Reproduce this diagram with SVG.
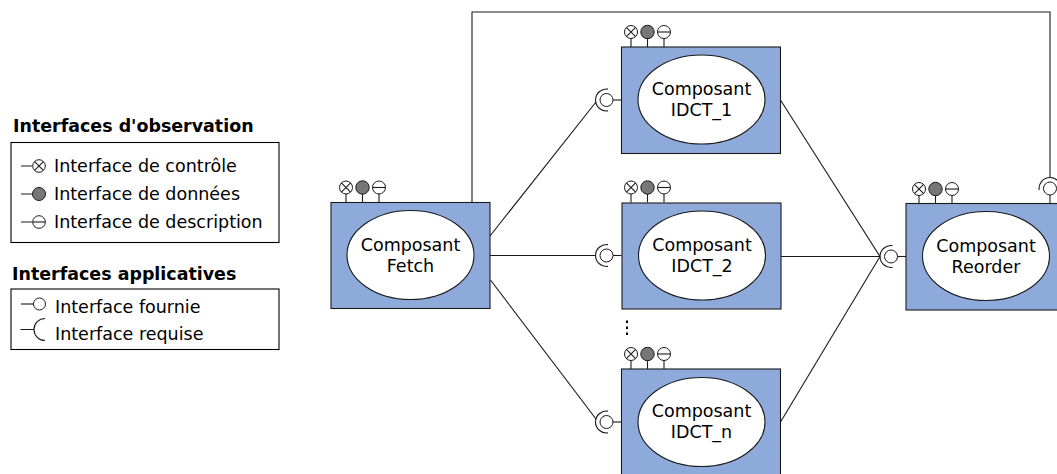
<svg xmlns="http://www.w3.org/2000/svg" xmlns:xlink="http://www.w3.org/1999/xlink" width="1057" height="474" viewBox="0 0 1057 474">
<style>
text{font-family:"DejaVu Sans",sans-serif;font-size:17.500px;fill:#000}
.c{text-anchor:middle}
.h{font-weight:bold;font-size:17.450px}
.l{fill:none;stroke:#1a1a1a;stroke-width:1.1}
.box{fill:#8eaadb;stroke:#1a1a1a;stroke-width:1.1}
.el{fill:#fff;stroke:#1a1a1a;stroke-width:1.1}
.o{fill:#fff;stroke:#1a1a1a;stroke-width:1}
.g{fill:#777;stroke:#1a1a1a;stroke-width:1}
.leg{fill:#fff;stroke:#000;stroke-width:1.1}
</style>
<defs>
<g id="probes">
<path class="l" d="M0 6V15M16.500 6V15M33 6V15"/>
<circle class="o" cx="0" cy="0" r="6.500"/>
<path class="l" d="M-4.600-4.600L4.600 4.600M-4.600 4.600L4.600-4.600"/>
<circle class="g" cx="16.500" cy="0" r="6.700"/>
<circle class="o" cx="33" cy="0" r="6.500"/>
<path class="l" d="M26.500 0H39.500"/>
</g>
<g id="iface">
<path class="l" d="M6 0H15"/>
<circle class="o" cx="0" cy="0" r="6.500"/>
<path class="l" d="M1.500-10.900A11 11 0 1 0 1.500 10.900"/>
</g>
</defs>

<g id="legend-observation">
<text class="h" x="13" y="132">Interfaces d'observation</text>
<rect class="leg" x="11" y="142.500" width="268" height="100"/>
<path class="l" d="M21 166H32M21 194H32M21 222H32"/>
<circle class="o" cx="39" cy="166" r="6.300"/>
<path class="l" d="M34.600 161.600L43.400 170.400M34.600 170.400L43.400 161.600"/>
<circle class="g" cx="39" cy="194" r="6.500"/>
<circle class="o" cx="39" cy="222" r="6.300"/>
<path class="l" d="M32.700 222H45.300"/>
<text x="54" y="172">Interface de contrôle</text>
<text x="54" y="200">Interface de données</text>
<text x="54" y="228">Interface de description</text>
</g>

<g id="legend-applicative">
<text class="h" x="12" y="280">Interfaces applicatives</text>
<rect class="leg" x="11" y="289" width="268" height="60.500"/>
<path class="l" d="M21 304H33"/>
<circle class="o" cx="39.500" cy="304" r="6"/>
<path class="l" d="M20.500 329.500H34M45 318.500A11 11 0 0 0 45 340.500"/>
<text x="55" y="313">Interface fournie</text>
<text x="55" y="340">Interface requise</text>
</g>

<g id="connectors">
<path class="l" d="M472 202.500V12H1050V177"/>
<path class="l" d="M490 236L596 102"/>
<path class="l" d="M490 255.500H596"/>
<path class="l" d="M490.500 280L596 419"/>
<path class="l" d="M780.500 100L880 256.500"/>
<path class="l" d="M781 256.500H880"/>
<path class="l" d="M780.500 422L880 256.500"/>
</g>

<g id="fetch">
<rect class="box" x="331" y="202.500" width="159" height="106"/>
<ellipse class="el" cx="410.500" cy="255" rx="63.500" ry="44.500"/>
<text class="c" x="410.500" y="251">Composant</text>
<text class="c" x="410.500" y="272">Fetch</text>
<use xlink:href="#probes" href="#probes" x="346" y="187.500"/>
</g>

<g id="idct1">
<rect class="box" x="621.500" y="47" width="159" height="106.500"/>
<ellipse class="el" cx="701.500" cy="99.500" rx="63.500" ry="44.500"/>
<text class="c" x="701.500" y="95">Composant</text>
<text class="c" x="701.500" y="116">IDCT_1</text>
<use xlink:href="#probes" href="#probes" x="631" y="32"/>
<use xlink:href="#iface" href="#iface" x="606.500" y="100"/>
</g>

<g id="idct2">
<rect class="box" x="622" y="203" width="159" height="106"/>
<ellipse class="el" cx="702" cy="255.500" rx="63.500" ry="44.500"/>
<text class="c" x="702" y="251">Composant</text>
<text class="c" x="702" y="272">IDCT_2</text>
<use xlink:href="#probes" href="#probes" x="631" y="187.500"/>
<use xlink:href="#iface" href="#iface" x="606.500" y="255.500"/>
</g>

<g id="dots">
<path d="M627 320.500V323M627 326.500V329M627 332.500V335" fill="none" stroke="#000" stroke-width="2"/>
</g>

<g id="idctn">
<rect class="box" x="621.500" y="369" width="159" height="110"/>
<ellipse class="el" cx="701.500" cy="422" rx="63.500" ry="44.500"/>
<text class="c" x="701.500" y="417">Composant</text>
<text class="c" x="701.500" y="438">IDCT_n</text>
<use xlink:href="#probes" href="#probes" x="631" y="354"/>
<use xlink:href="#iface" href="#iface" x="606.500" y="422"/>
</g>

<g id="reorder">
<rect class="box" x="906" y="203.500" width="156" height="106.500"/>
<ellipse class="el" cx="986" cy="256" rx="63.500" ry="44.500"/>
<text class="c" x="986" y="252">Composant</text>
<text class="c" x="986" y="273">Reorder</text>
<use xlink:href="#probes" href="#probes" x="919" y="189"/>
<use xlink:href="#iface" href="#iface" x="891" y="256.500"/>
<use xlink:href="#iface" href="#iface" transform="translate(1050 188.500) rotate(90)"/>
</g>
</svg>
